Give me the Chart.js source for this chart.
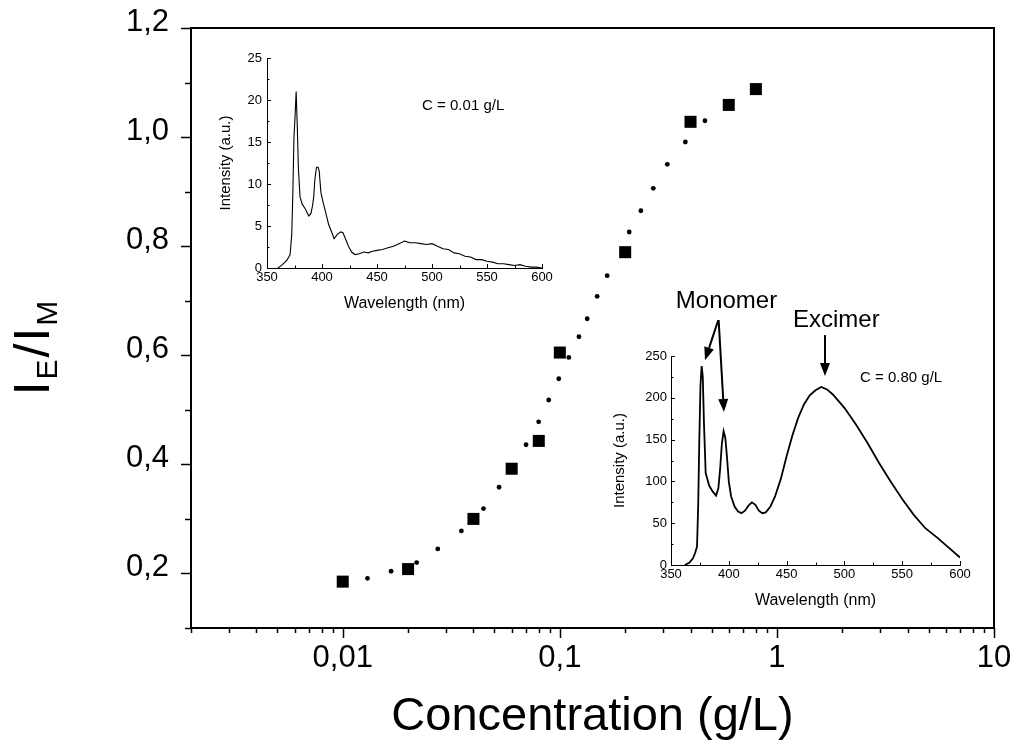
<!DOCTYPE html>
<html>
<head>
<meta charset="utf-8">
<script src="https://cdn.jsdelivr.net/npm/chart.js@4.4.0/dist/chart.umd.min.js"></script>
<style>
  body { margin: 0; background: #fff; }
  #wrap { position: relative; width: 1017px; height: 745px; }
  canvas { position: absolute; }
</style>
</head>
<body>
<div id="wrap">
  <canvas id="main" width="1017" height="745" style="left:0;top:0"></canvas>
  <canvas id="inset1" width="350" height="270" style="left:205px;top:45px"></canvas>
  <canvas id="inset2" width="380" height="340" style="left:610px;top:280px"></canvas>
</div>
<script>
// main plot: measured ratio vs concentration
const concentration = [0.01, 0.02, 0.04, 0.06, 0.08, 0.1, 0.2, 0.4, 0.6, 0.8];
const ratio = [0.185, 0.208, 0.300, 0.392, 0.443, 0.605, 0.789, 1.028, 1.059, 1.088];

// dotted fit curve, dots
const fitX = [0.0130, 0.0167, 0.0219, 0.0274, 0.0352, 0.0445, 0.0525, 0.0699, 0.0799, 0.0889, 0.0989,
  0.1100, 0.1225, 0.1337, 0.1486, 0.1653, 0.2088, 0.2362, 0.2695, 0.3127, 0.3786, 0.4660];
const fitY = [0.191, 0.204, 0.220, 0.245, 0.278, 0.319, 0.358, 0.436, 0.478, 0.518, 0.557,
  0.596, 0.634, 0.667, 0.708, 0.746, 0.826, 0.865, 0.906, 0.950, 0.991, 1.030];

const xDecades = [0.01, 0.1, 1, 10];

// inset 1 : C = 0.01 g/L
const wl1 = [360, 364, 368, 371, 372.5, 373.5, 374.5, 375.5, 376.5, 377.5, 378.5, 380, 382, 385, 388, 390,
  391.5, 392.5, 393.5, 395, 396.5, 397.5, 399, 401, 403, 406, 409, 411, 414, 417, 419, 421, 424, 427, 430,
  434, 438, 442, 446, 450, 455, 460, 465, 470, 475, 480, 485, 490, 495, 500, 505, 510, 515, 520, 525, 530,
  535, 540, 545, 550, 555, 560, 565, 570, 575, 580, 585, 590, 595, 600];
const int1 = [0, 0.4, 0.9, 1.6, 4, 9, 15.5, 18, 21, 17, 12, 8.5, 7.6, 7, 6.2, 6.5,
  7.5, 8.5, 10.5, 12, 12, 11.5, 9, 7.8, 6.8, 5.2, 4.2, 3.5, 4, 4.3, 4.2, 3.6, 2.6, 1.9, 1.6,
  1.7, 1.9, 1.8, 2.0, 2.1, 2.2, 2.4, 2.6, 2.9, 3.2, 3.0, 3.0, 2.9, 2.8, 2.9, 2.6, 2.3, 2.2, 1.8, 1.7, 1.4,
  1.3, 1.0, 1.0, 0.8, 0.7, 0.5, 0.5, 0.4, 0.3, 0.4, 0.2, 0.1, 0.1, 0];

// inset 2 : C = 0.80 g/L
const wl2 = [362, 366, 369, 371, 372.5, 373.5, 374.5, 375.5, 376.5, 377.5, 378.5, 380, 383, 386, 389, 391,
  392.5, 394, 395.5, 397, 398.5, 400, 402, 405, 408, 411, 414, 417, 420, 423, 426, 429, 432, 436, 440, 445,
  450, 455, 460, 465, 470, 475, 480, 485, 490, 495, 500, 510, 520, 530, 540, 550, 560, 570, 580, 590, 600];
const int2 = [0, 3, 8, 15, 22, 70, 150, 215, 238, 225, 170, 110, 95, 88, 83, 92,
  115, 145, 160, 152, 128, 100, 82, 70, 64, 62, 65, 71, 75, 72, 65, 62, 63, 70, 82, 103,
  130, 155, 176, 192, 203, 209, 213, 210, 204, 196, 188, 168, 146, 122, 100, 79, 60, 44, 33, 21, 9];

const FONT = "'Liberation Sans', Arial, sans-serif";
Chart.defaults.font.family = FONT;
Chart.defaults.color = '#000';

function isDecade(v) {
  const l = Math.log10(v);
  return Math.abs(l - Math.round(l)) < 1e-6;
}

// log minor ticks 2..9 in each decade
const xTickValues = [];
[-3, -2, -1, 0].forEach(e => {
  for (let m = 1; m < 10; m++) {
    const v = +(m * Math.pow(10, e)).toPrecision(3);
    if (v >= 0.002 && v <= 10) xTickValues.push(v);
  }
});
xTickValues.push(10);

// no extra room for the end labels, the plot box is fixed
function noEndPadding(s) {
  s.paddingTop = 0; s.paddingBottom = 0; s.paddingLeft = 0; s.paddingRight = 0;
}

// tick marks drawn by hand so majors/minors get different lengths
function tickMarks(specs) {
  return {
    id: 'tickMarks',
    afterDraw(chart) {
      const ctx = chart.ctx, area = chart.chartArea;
      ctx.save();
      ctx.strokeStyle = '#000';
      Object.keys(specs).forEach(id => {
        const s = specs[id], scale = chart.scales[id];
        ctx.lineWidth = s.width;
        scale.ticks.forEach(t => {
          const len = s.isMajor(t.value) ? s.major : s.minor;
          const p = Math.round(scale.getPixelForValue(t.value)) + 0.5;
          ctx.beginPath();
          if (scale.isHorizontal()) {
            ctx.moveTo(p, area.bottom);
            ctx.lineTo(p, area.bottom + s.dir * len);
          } else {
            ctx.moveTo(area.left, p);
            ctx.lineTo(area.left - s.dir * len, p);
          }
          ctx.stroke();
        });
      });
      ctx.restore();
    }
  };
}

const mainFrame = {
  id: 'mainFrame',
  afterDraw(chart) {
    const ctx = chart.ctx, a = chart.chartArea;
    ctx.save();
    ctx.strokeStyle = '#000';
    ctx.lineWidth = 2;
    ctx.beginPath();
    ctx.moveTo(a.left, a.top);
    ctx.lineTo(a.right, a.top);
    ctx.lineTo(a.right, a.bottom);
    ctx.stroke();
    // y title I_E/I_M with subscripts
    ctx.translate(31, 352);
    ctx.rotate(-Math.PI / 2);
    const big = '50px ' + FONT, small = '30px ' + FONT;
    const parts = [['I', big, 0], ['E', small, 8], ['/', big, 0], ['I', big, 0], ['M', small, 8]];
    let total = 0;
    parts.forEach(p => { ctx.font = p[1]; total += ctx.measureText(p[0]).width; });
    let x = -total / 2;
    ctx.fillStyle = '#000';
    ctx.textBaseline = 'alphabetic';
    parts.forEach(p => {
      ctx.font = p[1];
      ctx.fillText(p[0], x, 18 + p[2]);
      x += ctx.measureText(p[0]).width + 2;
    });
    ctx.restore();
  }
};

new Chart(document.getElementById('main'), {
  type: 'scatter',
  data: {
    datasets: [
      {
        data: fitX.map((x, i) => ({ x: x, y: fitY[i] })),
        pointStyle: 'circle', pointRadius: 2.4, backgroundColor: '#000', borderWidth: 0
      },
      {
        data: concentration.map((x, i) => ({ x: x, y: ratio[i] })),
        pointStyle: 'rect', pointRadius: 8.5, backgroundColor: '#000', borderWidth: 0
      }
    ]
  },
  options: {
    responsive: false,
    animation: false,
    devicePixelRatio: 1,
    layout: { padding: { top: 28, right: 23, left: 0, bottom: 0 } },
    plugins: { legend: { display: false }, tooltip: { enabled: false } },
    scales: {
      x: {
        type: 'logarithmic', min: 0.002, max: 10,
        afterBuildTicks: s => { s.ticks = xTickValues.map(v => ({ value: v })); },
        afterFit: s => { s.height = 117; noEndPadding(s); },
        ticks: {
          autoSkip: false, maxRotation: 0, padding: 12, font: { size: 31 },
          callback: v => isDecade(v) ? String(v).replace('.', ',') : ''
        },
        grid: { display: false, drawTicks: false },
        border: { color: '#000', width: 2 },
        title: { display: true, text: 'Concentration (g/L)', font: { size: 47 }, padding: { top: 0, bottom: 0 } }
      },
      y: {
        min: 0.1, max: 1.2,
        afterFit: s => { s.width = 191; noEndPadding(s); },
        ticks: {
          stepSize: 0.1, autoSkip: false, padding: 22, labelOffset: -6, font: { size: 31 },
          callback: v => (Math.round(v * 10) % 2 === 0) ? v.toFixed(1).replace('.', ',') : ''
        },
        grid: { display: false, drawTicks: false },
        border: { color: '#000', width: 2 }
      }
    }
  },
  plugins: [
    tickMarks({
      x: { dir: 1, major: 10, minor: 5, width: 1.5, isMajor: isDecade },
      y: { dir: 1, major: 10, minor: 6, width: 1.5, isMajor: v => Math.round(v * 10) % 2 === 0 }
    }),
    mainFrame
  ]
});

// text and arrows inside the insets, placed in data units
function insetNotes(notes, arrows) {
  return {
    id: 'insetNotes',
    afterDraw(chart) {
      const ctx = chart.ctx, sx = chart.scales.x, sy = chart.scales.y;
      ctx.save();
      ctx.fillStyle = '#000';
      ctx.strokeStyle = '#000';
      ctx.textBaseline = 'middle';
      notes.forEach(n => {
        ctx.font = n.size + 'px ' + FONT;
        ctx.textAlign = n.align;
        ctx.fillText(n.text, sx.getPixelForValue(n.x), sy.getPixelForValue(n.y));
      });
      arrows.forEach(a => {
        const x0 = sx.getPixelForValue(a[0]), y0 = sy.getPixelForValue(a[1]);
        const x1 = sx.getPixelForValue(a[2]), y1 = sy.getPixelForValue(a[3]);
        const ang = Math.atan2(y1 - y0, x1 - x0), hl = 13, hw = 5;
        ctx.lineWidth = 2;
        ctx.beginPath();
        ctx.moveTo(x0, y0);
        ctx.lineTo(x1 - hl * Math.cos(ang), y1 - hl * Math.sin(ang));
        ctx.stroke();
        ctx.beginPath();
        ctx.moveTo(x1, y1);
        ctx.lineTo(x1 - hl * Math.cos(ang) + hw * Math.sin(ang), y1 - hl * Math.sin(ang) - hw * Math.cos(ang));
        ctx.lineTo(x1 - hl * Math.cos(ang) - hw * Math.sin(ang), y1 - hl * Math.sin(ang) + hw * Math.cos(ang));
        ctx.closePath();
        ctx.fill();
      });
      ctx.restore();
    }
  };
}

function insetChart(id, wl, inten, opts) {
  return new Chart(document.getElementById(id), {
    type: 'line',
    data: {
      datasets: [{
        data: wl.map((x, i) => ({ x: x, y: inten[i] })),
        borderColor: '#000', borderWidth: opts.lineWidth, pointRadius: 0, tension: 0, fill: false
      }]
    },
    options: {
      responsive: false,
      animation: false,
      devicePixelRatio: 1,
      layout: { padding: opts.padding },
      plugins: { legend: { display: false }, tooltip: { enabled: false } },
      scales: {
        x: {
          type: 'linear', min: 350, max: 600,
          afterFit: s => { s.height = opts.xHeight; noEndPadding(s); },
          ticks: {
            stepSize: 25, autoSkip: false, maxRotation: 0, padding: 2, font: { size: 13 },
            callback: v => v % 50 === 0 ? v : ''
          },
          grid: { display: false, drawTicks: false },
          border: { color: '#000', width: 1 },
          title: { display: true, text: 'Wavelength (nm)', font: { size: 16 }, padding: { top: 0, bottom: opts.xTitlePad } }
        },
        y: {
          min: 0, max: opts.yMax,
          afterFit: s => { s.width = opts.yWidth; noEndPadding(s); },
          ticks: {
            stepSize: opts.yStep / 2, autoSkip: false, padding: opts.yPad, font: { size: 13 },
            callback: v => v % opts.yStep === 0 ? v : ''
          },
          grid: { display: false, drawTicks: false },
          border: { color: '#000', width: 1 },
          title: { display: true, text: 'Intensity (a.u.)', font: { size: 15 }, padding: { top: opts.yTitlePad, bottom: 0 } }
        }
      }
    },
    plugins: [
      tickMarks({
        x: { dir: -1, major: 4, minor: 2.5, width: 1, isMajor: v => v % 50 === 0 },
        y: { dir: -1, major: 4, minor: 2.5, width: 1, isMajor: v => v % opts.yStep === 0 }
      }),
      insetNotes(opts.notes, opts.arrows)
    ]
  });
}

insetChart('inset1', wl1, int1, {
  lineWidth: 1.1, yMax: 25, yStep: 5,
  padding: { top: 13, right: 13, left: 0, bottom: 0 },
  xHeight: 47, yWidth: 62, yPad: 5, xTitlePad: 2, yTitlePad: 12,
  notes: [{ text: 'C = 0.01 g/L', x: 491, y: 19.3, size: 15, align: 'left' }],
  arrows: []
});

insetChart('inset2', wl2, int2, {
  lineWidth: 1.8, yMax: 250, yStep: 50,
  padding: { top: 76, right: 30, left: 0, bottom: 0 },
  xHeight: 55, yWidth: 61, yPad: 4, xTitlePad: 10, yTitlePad: 1,
  notes: [
    { text: 'Monomer', x: 398, y: 315, size: 24, align: 'center' },
    { text: 'Excimer', x: 493, y: 293, size: 24, align: 'center' },
    { text: 'C = 0.80 g/L', x: 513.5, y: 224, size: 15, align: 'left' }
  ],
  arrows: [
    [390.9, 293, 379.4, 245],
    [391.2, 293, 395.8, 183],
    [483.2, 275, 483.2, 226]
  ]
});
</script>
</body>
</html>
